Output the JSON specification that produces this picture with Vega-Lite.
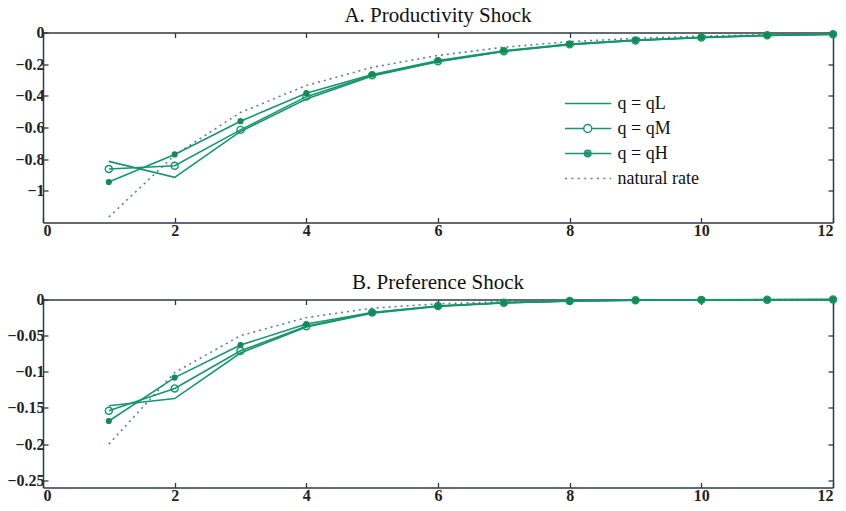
{
  "$schema": "https://vega.github.io/schema/vega-lite/v6.json",
  "background": "white",
  "padding": {"left": 6, "top": 4.5, "right": 10, "bottom": 4},
  "spacing": 33,
  "config": {
    "font": "Liberation Serif",
    "view": {"stroke": null},
    "axis": {
      "grid": false,
      "title": null,
      "domainColor": "#2d3a40",
      "domainWidth": 1.5,
      "tickColor": "#2d3a40",
      "tickWidth": 1.3,
      "tickSize": -5,
      "labelFont": "Liberation Serif",
      "labelFontSize": 16,
      "labelFontWeight": "bold",
      "labelColor": "#222222"
    },
    "axisX": {"labelPadding": 5},
    "axisY": {"labelPadding": 4},
    "title": {"font": "Liberation Serif", "fontSize": 21, "fontWeight": "normal", "color": "#111111", "offset": -1.5}
  },
  "datasets": {
    "prod": [
      {"t": 1, "qL": -0.814, "qM": -0.862, "qH": -0.944, "nat": -1.165},
      {"t": 2, "qL": -0.915, "qM": -0.842, "qH": -0.77, "nat": -0.775},
      {"t": 3, "qL": -0.625, "qM": -0.615, "qH": -0.56, "nat": -0.505},
      {"t": 4, "qL": -0.42, "qM": -0.405, "qH": -0.383, "nat": -0.335},
      {"t": 5, "qL": -0.275, "qM": -0.27, "qH": -0.265, "nat": -0.22},
      {"t": 6, "qL": -0.185, "qM": -0.182, "qH": -0.177, "nat": -0.145},
      {"t": 7, "qL": -0.12, "qM": -0.118, "qH": -0.115, "nat": -0.093},
      {"t": 8, "qL": -0.077, "qM": -0.075, "qH": -0.073, "nat": -0.058},
      {"t": 9, "qL": -0.051, "qM": -0.05, "qH": -0.048, "nat": -0.037},
      {"t": 10, "qL": -0.033, "qM": -0.032, "qH": -0.03, "nat": -0.023},
      {"t": 11, "qL": -0.019, "qM": -0.018, "qH": -0.017, "nat": -0.015},
      {"t": 12, "qL": -0.012, "qM": -0.011, "qH": -0.01, "nat": -0.01}
    ],
    "pref": [
      {"t": 1, "qL": -0.147, "qM": -0.154, "qH": -0.168, "nat": -0.2},
      {"t": 2, "qL": -0.137, "qM": -0.123, "qH": -0.108, "nat": -0.101},
      {"t": 3, "qL": -0.074, "qM": -0.071, "qH": -0.063, "nat": -0.05},
      {"t": 4, "qL": -0.038, "qM": -0.037, "qH": -0.034, "nat": -0.025},
      {"t": 5, "qL": -0.019, "qM": -0.018, "qH": -0.018, "nat": -0.012},
      {"t": 6, "qL": -0.0095, "qM": -0.009, "qH": -0.009, "nat": -0.006},
      {"t": 7, "qL": -0.0047, "qM": -0.0045, "qH": -0.0045, "nat": -0.003},
      {"t": 8, "qL": -0.0023, "qM": -0.002, "qH": -0.002, "nat": -0.0015},
      {"t": 9, "qL": -0.0011, "qM": -0.001, "qH": -0.001, "nat": -0.0008},
      {"t": 10, "qL": -0.0006, "qM": -0.0005, "qH": -0.0005, "nat": -0.0004},
      {"t": 11, "qL": -0.0003, "qM": -0.0002, "qH": -0.0003, "nat": -0.0002},
      {"t": 12, "qL": -0.0001, "qM": -0.0001, "qH": -0.0001, "nat": -0.0001}
    ]
  },
  "resolve": {"scale": {"color": "independent", "shape": "independent"}},
  "vconcat": [
    {
      "title": "A. Productivity Shock",
      "width": 790,
      "height": 190,
      "data": {"name": "prod"},
      "transform": [{"fold": ["qL", "qM", "qH", "nat"], "as": ["series", "value"]}],
      "resolve": {"axis": {"x": "independent", "y": "independent"}},
      "layer": [
        {
          "transform": [{"filter": "datum.series === 'nat'"}],
          "mark": {"type": "line", "strokeWidth": 1.6, "strokeDash": [2, 4], "color": "#5a7cab"},
          "encoding": {
            "x": {"field": "t", "type": "quantitative", "scale": {"domain": [0, 12]}, "axis": {"values": [0, 2, 4, 6, 8, 10, 12], "format": "~g"}},
            "y": {"field": "value", "type": "quantitative", "scale": {"domain": [-1.2, 0]}, "axis": {"values": [-1, -0.8, -0.6, -0.4, -0.2, 0], "format": "~g"}}
          }
        },
        {
          "transform": [{"filter": "datum.series !== 'nat'"}],
          "mark": {"type": "line", "strokeWidth": 1.6, "color": "#16966a"},
          "encoding": {
            "x": {"field": "t", "type": "quantitative", "axis": null},
            "y": {"field": "value", "type": "quantitative", "axis": null},
            "detail": {"field": "series", "type": "nominal"}
          }
        },
        {
          "transform": [{"filter": "datum.series === 'qM'"}],
          "mark": {"type": "point", "filled": false, "size": 50, "strokeWidth": 1.4, "color": "#16966a", "opacity": 1},
          "encoding": {
            "x": {"field": "t", "type": "quantitative", "axis": null},
            "y": {"field": "value", "type": "quantitative", "axis": null}
          }
        },
        {
          "transform": [{"filter": "datum.series === 'qH'"}],
          "mark": {"type": "circle", "size": 38, "color": "#138a52", "opacity": 1},
          "encoding": {
            "x": {"field": "t", "type": "quantitative", "axis": null},
            "y": {"field": "value", "type": "quantitative", "axis": null}
          }
        },
        {
          "transform": [{"filter": "false"}],
          "mark": {"type": "point", "filled": false, "strokeWidth": 1.5, "opacity": 1},
          "encoding": {
            "x": {"field": "t", "type": "quantitative", "axis": {"orient": "top", "labels": false, "values": [0, 2, 4, 6, 8, 10, 12]}},
            "y": {"field": "value", "type": "quantitative", "axis": {"orient": "right", "labels": false, "values": [-1, -0.8, -0.6, -0.4, -0.2, 0]}},
            "color": {
              "field": "series",
              "type": "nominal",
              "scale": {"domain": ["qL", "qM", "qH", "nat"], "range": ["#16966a", "#16966a", "#16966a", "#5a7cab"]},
              "legend": {
                "orient": "none",
                "legendX": 521,
                "legendY": 62,
                "title": null,
                "padding": 0,
                "symbolSize": 256,
                "symbolStrokeWidth": 1.5,
                "labelOffset": 35.5,
                "labelFont": "Liberation Serif",
                "labelFontSize": 18,
                "labelColor": "#111111",
                "rowPadding": 7,
                "labelExpr": "datum.value === 'qL' ? 'q = qL' : datum.value === 'qM' ? 'q = qM' : datum.value === 'qH' ? 'q = qH' : 'natural rate'",
                "encode": {"labels": {"update": {"fontStyle": {"signal": "datum.value === 'nat' ? 'normal' : 'italic'"}, "fontWeight": {"signal": "datum.value === 'nat' ? 'normal' : 'bold'"}}}}
              }
            },
            "shape": {
              "field": "series",
              "type": "nominal",
              "scale": {
                "domain": ["qL", "qM", "qH", "nat"],
                "range": [
                  "M-1,0H4.78",
                  "M-1,0H1.34M2.34,0H4.78M2.34,0A0.5,0.5,0,1,1,1.34,0A0.5,0.5,0,1,1,2.34,0",
                  "M-1,0H4.78M2.24,0A0.4,0.4,0,1,1,1.44,0A0.4,0.4,0,1,1,2.24,0M2.04,0A0.2,0.2,0,1,1,1.64,0A0.2,0.2,0,1,1,2.04,0M1.99,0A0.05,0.05,0,1,1,1.89,0A0.05,0.05,0,1,1,1.99,0",
                  "M-1,0H-0.75M-0.2,0H0.05M0.6,0H0.85M1.4,0H1.65M2.2,0H2.45M3,0H3.25M3.8,0H4.05M4.6,0H4.78"
                ]
              }
            }
          }
        }
      ]
    },
    {
      "title": "B. Preference Shock",
      "width": 790,
      "height": 188,
      "data": {"name": "pref"},
      "transform": [{"fold": ["qL", "qM", "qH", "nat"], "as": ["series", "value"]}],
      "resolve": {"axis": {"x": "independent", "y": "independent"}},
      "layer": [
        {
          "transform": [{"filter": "datum.series === 'nat'"}],
          "mark": {"type": "line", "strokeWidth": 1.6, "strokeDash": [2, 4], "color": "#5a7cab"},
          "encoding": {
            "x": {"field": "t", "type": "quantitative", "scale": {"domain": [0, 12]}, "axis": {"values": [0, 2, 4, 6, 8, 10, 12], "format": "~g"}},
            "y": {"field": "value", "type": "quantitative", "scale": {"domain": [-0.25, 0]}, "axis": {"values": [-0.25, -0.2, -0.15, -0.1, -0.05, 0], "format": "~g"}}
          }
        },
        {
          "transform": [{"filter": "datum.series !== 'nat'"}],
          "mark": {"type": "line", "strokeWidth": 1.6, "color": "#16966a"},
          "encoding": {
            "x": {"field": "t", "type": "quantitative", "axis": null},
            "y": {"field": "value", "type": "quantitative", "axis": null},
            "detail": {"field": "series", "type": "nominal"}
          }
        },
        {
          "transform": [{"filter": "datum.series === 'qM'"}],
          "mark": {"type": "point", "filled": false, "size": 50, "strokeWidth": 1.4, "color": "#16966a", "opacity": 1},
          "encoding": {
            "x": {"field": "t", "type": "quantitative", "axis": null},
            "y": {"field": "value", "type": "quantitative", "axis": null}
          }
        },
        {
          "transform": [{"filter": "datum.series === 'qH'"}],
          "mark": {"type": "circle", "size": 38, "color": "#138a52", "opacity": 1},
          "encoding": {
            "x": {"field": "t", "type": "quantitative", "axis": null},
            "y": {"field": "value", "type": "quantitative", "axis": null}
          }
        },
        {
          "transform": [{"filter": "false"}],
          "mark": {"type": "point", "opacity": 1},
          "encoding": {
            "x": {"field": "t", "type": "quantitative", "axis": {"orient": "top", "labels": false, "values": [0, 2, 4, 6, 8, 10, 12]}},
            "y": {"field": "value", "type": "quantitative", "axis": {"orient": "right", "labels": false, "values": [-0.25, -0.2, -0.15, -0.1, -0.05, 0]}}
          }
        }
      ]
    }
  ]
}
